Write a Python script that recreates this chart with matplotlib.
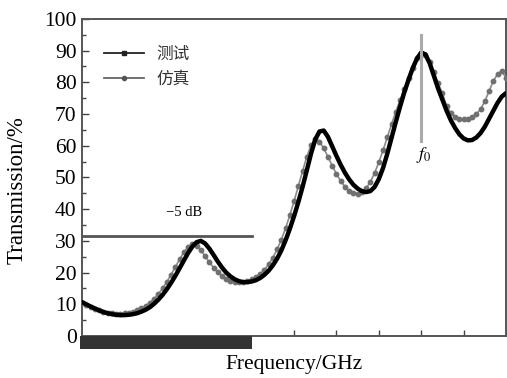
import numpy as np
import matplotlib
matplotlib.use('Agg')
import matplotlib.pyplot as plt
from matplotlib.patches import Rectangle
from matplotlib.lines import Line2D

plt.rcParams['font.family'] = ['Liberation Serif', 'DejaVu Serif']
plt.rcParams['mathtext.fontset'] = 'stix'

# frequency axis (arbitrary units, f0 at 8)
freq = [round(0.1 * i, 1) for i in range(101)]

measured = [10.7, 10.0, 9.3, 8.7, 8.1, 7.6, 7.2, 6.9, 6.7, 6.6,
            6.6, 6.7, 6.9, 7.2, 7.7, 8.3, 9.1, 10.2, 11.5, 13.0,
            14.8, 16.8, 19.0, 21.4, 23.8, 26.2, 28.2, 29.6, 30.0, 29.2,
            27.6, 25.6, 23.5, 21.6, 20.0, 18.8, 17.9, 17.3, 17.0, 17.0,
            17.2, 17.6, 18.3, 19.3, 20.6, 22.3, 24.4, 27.0, 30.2, 33.8,
            37.8, 42.2, 47.0, 52.2, 57.5, 62.0, 64.5, 64.8, 62.8, 59.8,
            56.8, 54.0, 51.5, 49.4, 47.7, 46.5, 45.7, 45.4, 45.7, 47.0,
            49.5, 53.0, 57.5, 62.5, 67.5, 72.3, 76.8, 80.8, 84.5, 87.5,
            89.4, 88.8, 86.0, 82.0, 78.0, 74.5, 71.0, 68.0, 65.6, 63.6,
            62.3, 61.7, 61.8, 62.6, 64.0, 66.0, 68.5, 71.0, 73.5, 75.5,
            76.6]

simulated = [10.5, 9.8, 9.2, 8.6, 8.1, 7.7, 7.4, 7.2, 7.1, 7.1,
             7.2, 7.4, 7.7, 8.1, 8.7, 9.5, 10.5, 11.8, 13.3, 15.1,
             17.1, 19.4, 21.8, 24.2, 26.4, 28.1, 28.9, 28.5, 27.1, 25.2,
             23.3, 21.6, 20.2, 19.0, 18.1, 17.5, 17.1, 17.0, 17.1, 17.4,
             17.9, 18.6, 19.6, 20.9, 22.6, 24.7, 27.3, 30.4, 34.0, 38.1,
             42.5, 47.2, 52.0, 56.5, 60.2, 62.0, 61.3, 59.2, 56.5, 53.7,
             51.1, 48.9, 47.1, 45.8, 45.1, 44.9, 45.4, 46.6, 48.6, 51.4,
             54.8, 58.6, 62.7, 66.8, 70.7, 74.4, 77.9, 81.3, 84.6, 87.6,
             89.3, 88.7, 86.5, 83.2, 79.7, 76.5, 72.5, 70.3, 69.0, 68.5,
             68.3, 68.4, 69.0, 70.0, 71.5, 74.0, 77.2, 80.4, 82.6, 83.5,
             81.5]

labels = ['测试', '仿真']
minus5db = 31.6
f0 = 8

fig = plt.figure(figsize=(5.07, 3.78), dpi=100)
ax = fig.add_axes([0.162, 0.111, 0.836, 0.839])

ax.plot(freq, simulated, color='#8a8a8a', lw=1.2, marker='o', ms=3.2,
        mfc='#707070', mec='#707070', zorder=3)
ax.plot(freq, measured, color='black', lw=3.2, solid_capstyle='round', zorder=4)

# -5 dB reference line and stop-band bar
ax.plot([0, 4], [minus5db, minus5db], color='#555555', lw=2, zorder=2)
ax.text(2.4, 38.8, '\u22125 dB', ha='center', va='center', fontsize=10.5)
ax.add_patch(Rectangle((-0.05, -4.2), 4.05, 4.2, facecolor='#333333',
                       edgecolor='none', clip_on=False, zorder=5))

# f0 marker
ax.plot([f0, f0], [61.5, 94.8], color='#aaaaaa', lw=2.2, zorder=5)
ax.text(f0 + 0.05, 57, r'$f_0$', ha='center', va='center', fontsize=13)

ax.set_xlim(0, 10)
ax.set_ylim(0, 100)
ax.set_yticks(np.arange(0, 101, 10))
ax.set_yticks(np.arange(5, 100, 10), minor=True)
ax.set_xticks([5, 6, 7, 8, 9])
ax.set_xticklabels([])
ax.tick_params(axis='both', which='both', direction='in', color='#444444', width=1)
ax.tick_params(axis='y', which='major', length=5, labelsize=15.5, pad=4)
ax.tick_params(axis='y', which='minor', length=3)
ax.tick_params(axis='x', which='major', length=4)
for s in ax.spines.values():
    s.set_color('#555555')
    s.set_linewidth(1.4)

ax.set_xlabel('Frequency/GHz', fontsize=15.5, labelpad=10)
ax.set_ylabel('Transmission/%', fontsize=16.5)
ax.yaxis.set_label_coords(-0.128, 0.46)

handles = [Line2D([], [], color='#222222', lw=1.3, marker='s', ms=3),
           Line2D([], [], color='#666666', lw=1.3, marker='o', ms=3,
                  mfc='#555555', mec='#555555')]
leg = ax.legend(handles, labels, loc='upper left', bbox_to_anchor=(0.031, 0.94),
                frameon=False, borderpad=0, handlelength=2.4, handletextpad=0.75,
                labelspacing=0.45, prop={'family': 'Noto Sans CJK SC', 'size': 12})
for t in leg.get_texts():
    t.set_color('#333333')

fig.savefig('out.png', dpi=100)
